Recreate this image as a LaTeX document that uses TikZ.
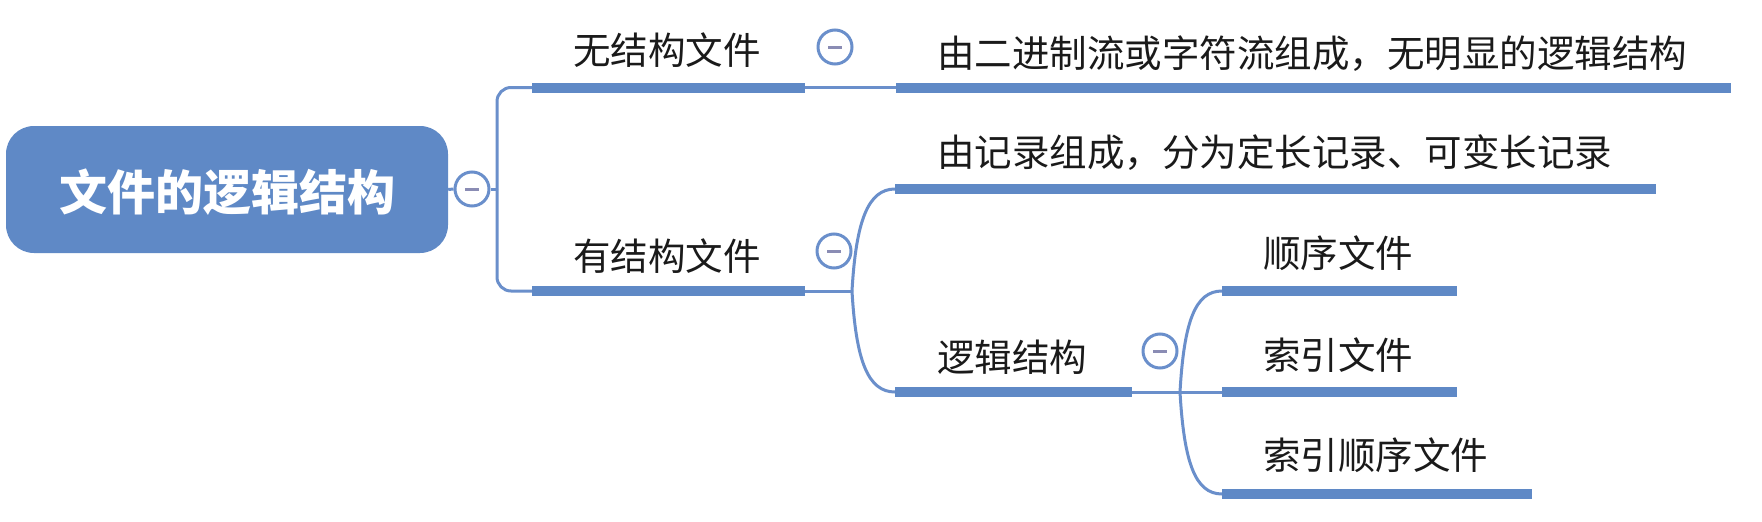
\documentclass[tikz,border=0pt]{standalone}
\usepackage{fontspec}
\setmainfont{Noto Sans CJK SC}
\usetikzlibrary{calc}
\definecolor{mmblue}{HTML}{5F89C6}
\definecolor{lineblue}{HTML}{6A8FCB}
\definecolor{minusgray}{HTML}{8A8CB4}
\definecolor{txt}{HTML}{1A1A1A}
\begin{document}
\begin{tikzpicture}[x=1pt,y=-1pt,
  bar/.style={line width=10pt, draw=mmblue},
  conn/.style={line width=3pt, draw=lineblue},
  lbl/.style={anchor=base west, inner sep=0pt, font=\fontsize{37.5}{44}\selectfont, text=txt},
  rootbox/.style={rectangle, rounded corners=28pt, fill=mmblue, minimum width=442pt, minimum height=127pt, inner sep=0pt},
  roottext/.style={inner sep=0pt, text=white, font=\fontsize{48}{56}\selectfont\bfseries},
  toggle/.style={circle, draw=lineblue, line width=3pt, fill=white, minimum size=34pt, inner sep=0pt,
    path picture={\draw[minusgray,line width=3pt] ([xshift=-7pt]path picture bounding box.center) -- ([xshift=7pt]path picture bounding box.center);}},
]
\useasboundingbox (0,0) rectangle (1762,522);
\fill[white] (0,0) rectangle (1762,522);

% root
\node[rootbox] (root) at (227,189.5) {};
\node[roottext] (rootlabel) at (227,192) {文件的逻辑结构};
\node[toggle] (c0) at (472,189) {};
\coordinate (j0) at (497,189);

% level 1 bars
\coordinate (b1l) at (532,87.5);  \coordinate (b1r) at (805,87.5);
\coordinate (b2l) at (532,291); \coordinate (b2r) at (805,291);
% descriptions
\coordinate (b1dl) at (896,87.5);  \coordinate (b1dr) at (1731,87.5);
\coordinate (j2) at (852,291);
\coordinate (b2al) at (895,189); \coordinate (b2ar) at (1656,189);
\coordinate (b2bl) at (895,392); \coordinate (b2br) at (1132,392);
% leaves
\coordinate (j3) at (1180,392);
\coordinate (l1l) at (1222,291); \coordinate (l1r) at (1457,291);
\coordinate (l2l) at (1222,392); \coordinate (l2r) at (1457,392);
\coordinate (l3l) at (1222,494); \coordinate (l3r) at (1532,494);

% connectors
\draw[conn] (root.east) -- (c0.west);
\draw[conn] (c0.east) -- (j0);
\draw[conn, rounded corners=14pt] (j0) |- (b1l);
\draw[conn, rounded corners=14pt] (j0) |- (b2l);
\draw[conn] (b1r) -- (b1dl);
\draw[conn] (b2r) -- (j2);
\draw[conn] (j2) .. controls +(4,-70) and +(-27,0) .. (b2al);
\draw[conn] (j2) .. controls +(4,70) and +(-27,0) .. (b2bl);
\draw[conn] (b2br) -- (l2l);
\draw[conn] (j3) .. controls +(4,-70) and +(-27,0) .. (l1l);
\draw[conn] (j3) .. controls +(4,70) and +(-27,0) .. (l3l);

% bars
\draw[bar] (b1l) -- (b1r);
\draw[bar] (b2l) -- (b2r);
\draw[bar] (b1dl) -- (b1dr);
\draw[bar] (b2al) -- (b2ar);
\draw[bar] (b2bl) -- (b2br);
\draw[bar] (l1l) -- (l1r);
\draw[bar] (l2l) -- (l2r);
\draw[bar] (l3l) -- (l3r);

% toggles
\node[toggle] (c1) at (835,47) {};
\node[toggle] (c2) at (834,251) {};
\node[toggle] (c3) at (1160,351) {};

% labels
\node[lbl] (t1) at (573,64) {无结构文件};
\node[lbl] (t2) at (573,270) {有结构文件};
\node[lbl] (t1d) at (937,67) {由二进制流或字符流组成，无明显的逻辑结构};
\node[lbl] (t2a) at (937,166) {由记录组成，分为定长记录、可变长记录};
\node[lbl] (t2b) at (937,371) {逻辑结构};
\node[lbl] (t3a) at (1263,267) {顺序文件};
\node[lbl] (t3b) at (1263,369) {索引文件};
\node[lbl] (t3c) at (1263,469) {索引顺序文件};
\end{tikzpicture}
\end{document}
